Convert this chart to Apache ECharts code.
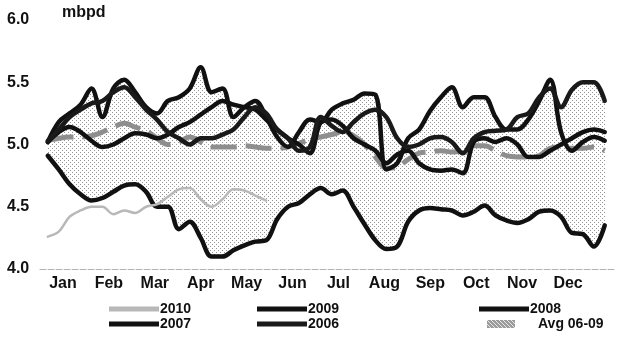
<!DOCTYPE html>
<html>
<head>
<meta charset="utf-8">
<script src="https://cdn.jsdelivr.net/npm/echarts@6/dist/echarts.min.js"></script>
<style>
  html, body { margin: 0; padding: 0; background: #ffffff; }
  #chart { width: 619px; height: 358px; }
</style>
</head>
<body>
<div id="chart"></div>
<script>
// Weekly demand, million barrels per day
const months = ['Jan', 'Feb', 'Mar', 'Apr', 'May', 'Jun', 'Jul', 'Aug', 'Sep', 'Oct', 'Nov', 'Dec'];
const yTicks = [4.0, 4.5, 5.0, 5.5, 6.0];

const s2010 = [4.26, 4.30, 4.42, 4.47, 4.50, 4.50, 4.44, 4.47, 4.45, 4.50, 4.52,
               4.58, 4.64, 4.65, 4.56, 4.50, 4.56, 4.64, 4.63, 4.59, 4.55];

const s2009 = [4.91, 4.80, 4.68, 4.60, 4.55, 4.57, 4.62, 4.67, 4.68, 4.62, 4.50, 4.50, 4.32,
               4.38, 4.25, 4.10, 4.10, 4.15, 4.19, 4.22, 4.23, 4.40, 4.50, 4.53, 4.60, 4.65,
               4.60, 4.63, 4.50, 4.36, 4.23, 4.16, 4.18, 4.38, 4.47, 4.49, 4.48, 4.47, 4.43,
               4.46, 4.51, 4.43, 4.39, 4.37, 4.40, 4.46, 4.47, 4.42, 4.29, 4.28, 4.18, 4.35];

const s2008 = [5.02, 5.10, 5.14, 5.10, 5.03, 4.98, 5.00, 5.05, 5.09, 5.08, 5.05, 5.08, 5.14,
               5.18, 5.24, 5.30, 5.35, 5.32, 5.30, 5.28, 5.20, 5.12, 5.05, 5.00, 4.93, 5.18,
               5.20, 5.15, 5.05, 5.00, 4.95, 4.85, 4.92, 4.95, 4.85, 4.80, 4.79, 4.80, 4.77,
               5.02, 5.05, 5.02, 5.05, 5.00, 4.90, 4.90, 4.95, 5.00, 5.05, 5.10, 5.12, 5.10];

const s2007 = [5.02, 5.18, 5.25, 5.32, 5.45, 5.22, 5.45, 5.52, 5.42, 5.30, 5.25, 5.35, 5.38,
               5.45, 5.62, 5.42, 5.45, 5.22, 5.30, 5.35, 5.22, 5.06, 4.98, 5.10, 5.20, 5.18,
               5.28, 5.33, 5.36, 5.41, 5.40, 4.80, 4.85, 5.05, 5.12, 5.27, 5.38, 5.46, 5.30,
               5.38, 5.38, 5.22, 5.12, 5.12, 5.20, 5.35, 5.52, 5.10, 4.95, 5.02, 5.06, 5.03];

const s2006 = [5.03, 5.12, 5.22, 5.28, 5.33, 5.35, 5.42, 5.46, 5.38, 5.28, 5.20, 5.10, 5.05,
               5.00, 5.05, 5.05, 5.08, 5.12, 5.22, 5.30, 5.25, 5.12, 5.05, 4.95, 4.98, 5.22,
               5.15, 5.10, 5.18, 5.25, 5.28, 5.22, 5.05, 4.98, 5.00, 5.05, 5.06, 5.02, 4.93,
               5.05, 5.10, 5.11, 5.12, 5.22, 5.25, 5.38, 5.45, 5.30, 5.44, 5.50, 5.50, 5.35];

const avg0609 = [5.03, 5.05, 5.06, 5.06, 5.07, 5.10, 5.14, 5.17, 5.14, 5.11, 5.05, 5.00, 5.02,
                 5.06, 5.02, 4.98, 4.98, 4.98, 4.99, 4.98, 4.97, 4.97, 4.98, 5.01, 5.04, 5.06,
                 5.08, 5.10, 5.07, 5.00, 4.90, 4.81, 4.82, 4.88, 4.93, 4.94, 4.95, 4.94, 4.95,
                 4.99, 4.99, 4.95, 4.91, 4.90, 4.90, 4.91, 4.97, 4.98, 4.97, 4.97, 4.98, 4.95];

// x axis is measured in months; each week sits at a fixed step along it
const WEEK0 = 0.17;
const WEEK_STEP = 0.2378;
const weekX = i => WEEK0 + i * WEEK_STEP;
const pairs = arr => arr.map((v, i) => [weekX(i), v]);

// 2006-09 range, filled as a stippled band
const years = [s2006, s2007, s2008, s2009];
const bandLow = s2009.map((_, i) => Math.min(...years.map(y => y[i])));
const bandHigh = s2009.map((_, i) => Math.max(...years.map(y => y[i])));

function stipple() {
  const c = document.createElement('canvas');
  c.width = 4; c.height = 4;
  const g = c.getContext('2d');
  g.fillStyle = '#959595';
  g.fillRect(0, 0, 1, 1);
  g.fillRect(2, 2, 1, 1);
  return c;
}
const stip = stipple();

function hatch(base, mark) {
  const c = document.createElement('canvas');
  c.width = 4; c.height = 4;
  const g = c.getContext('2d');
  g.fillStyle = base; g.fillRect(0, 0, 4, 4);
  g.fillStyle = mark;
  g.fillRect(0, 0, 1, 1); g.fillRect(1, 1, 1, 1); g.fillRect(2, 2, 1, 1); g.fillRect(3, 3, 1, 1);
  return c;
}

const chart = echarts.init(document.getElementById('chart'), null, { renderer: 'canvas' });
const FONT = '"Liberation Sans", Arial, sans-serif';

const lineSeries = (name, data, color, width, extra) => Object.assign({
  name, type: 'line', data: pairs(data), symbol: 'none', smooth: 0.35,
  lineStyle: { color, width, cap: 'round', join: 'round' },
  itemStyle: { color }, z: 5, silent: true
}, extra || {});

const legendItem = (name, left, top, opts) => Object.assign({
  data: [name], left, top, orient: 'horizontal', itemWidth: 50, itemHeight: 5, itemGap: 0,
  icon: 'rect', selectedMode: false,
  textStyle: { fontFamily: FONT, fontWeight: 'bold', fontSize: 14, color: '#111', padding: [0, 0, 0, -4] }
}, opts || {});

chart.setOption({
  animation: false,
  backgroundColor: '#ffffff',
  grid: { left: 40, right: 5, top: 20, bottom: 89 },
  xAxis: {
    type: 'value', min: 0, max: 12.5, interval: 0.5,
    axisLine: { show: true, lineStyle: { color: '#b0b0b0', width: 1, type: [6, 2] } },
    axisTick: { show: false },
    splitLine: { show: false },
    axisLabel: {
      margin: 7,
      fontFamily: FONT, fontWeight: 'bold', fontSize: 16, color: '#111',
      formatter: v => {
        const k = v - 0.5;
        return (Math.abs(k - Math.round(k)) < 1e-6 && Math.round(k) >= 0 && Math.round(k) < 12) ? months[Math.round(k)] : '';
      }
    },
    z: 10
  },
  yAxis: {
    type: 'value', min: yTicks[0], max: yTicks[yTicks.length - 1], interval: 0.5,
    axisLine: { show: false }, axisTick: { show: false }, splitLine: { show: false },
    axisLabel: {
      align: 'left', margin: 33,
      fontFamily: FONT, fontWeight: 'bold', fontSize: 16, color: '#111',
      formatter: v => v.toFixed(1)
    }
  },
  graphic: [{
    type: 'text', left: 62, top: 5,
    style: { text: 'mbpd', font: 'bold 16px "Liberation Sans", Arial, sans-serif', fill: '#111' }
  }],
  legend: [
    legendItem('2010', 104, 297, { itemStyle: { color: '#b8b8b8' } }),
    legendItem('2009', 252, 297),
    legendItem('2008', 474, 297),
    legendItem('2007', 104, 312),
    legendItem('2006', 252, 312),
    legendItem('Avg 06-09', 482, 312, {
      itemWidth: 28, itemHeight: 8,
      itemStyle: { color: { image: hatch('#9a9a9a', '#e8e8e8'), repeat: 'repeat' } },
      textStyle: { fontFamily: FONT, fontWeight: 'bold', fontSize: 14, color: '#111', padding: [0, 0, 0, 18] }
    })
  ],
  series: [
    {
      name: 'range', type: 'custom', silent: true, z: 1,
      data: [0],
      renderItem: (params, api) => {
        const top = bandHigh.map((v, i) => api.coord([weekX(i), v]));
        const bot = bandLow.map((v, i) => api.coord([weekX(i), v])).reverse();
        return {
          type: 'polygon',
          shape: { points: top.concat(bot), smooth: 0.2 },
          style: { fill: { image: stip, repeat: 'repeat' }, stroke: null }
        };
      }
    },
    lineSeries('Avg 06-09', avg0609, '#8e8e8e', 5, { lineStyle: { color: '#8e8e8e', width: 5, type: [26, 9] }, z: 4 }),
    lineSeries('2010', s2010, '#b8b8b8', 2.5, { z: 6 }),
    lineSeries('2009', s2009, '#111111', 4.5),
    lineSeries('2008', s2008, '#111111', 4.5),
    lineSeries('2007', s2007, '#111111', 4.5),
    lineSeries('2006', s2006, '#1a1a1a', 4.5)
  ]
});
</script>
</body>
</html>
